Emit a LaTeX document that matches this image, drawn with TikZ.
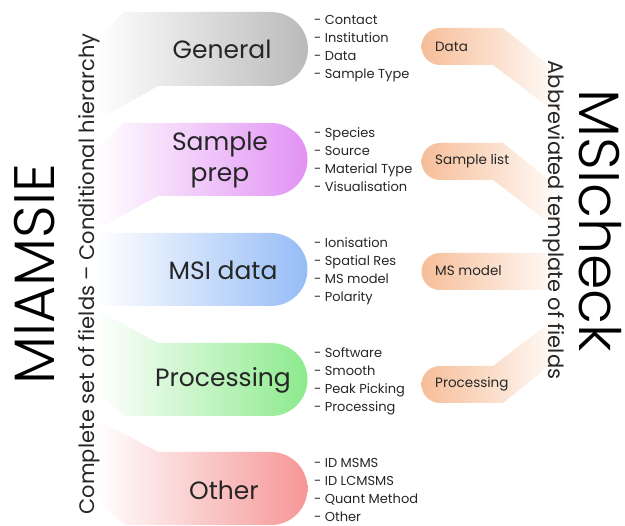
\documentclass[tikz,border=0pt]{standalone}
\usepackage{fontspec}
\setmainfont{Poppins}
\IfFontExistsTF{Poppins Light}{\newfontfamily\thinfont{Poppins Light}}{\newfontfamily\thinfont{Poppins}}

\definecolor{genGray}{RGB}{186,186,186}
\definecolor{prepPink}{RGB}{226,146,244}
\definecolor{msiBlue}{RGB}{150,188,246}
\definecolor{procGreen}{RGB}{140,234,140}
\definecolor{othRed}{RGB}{246,150,150}
\definecolor{chkPeach}{RGB}{246,190,152}
\definecolor{txtGray}{RGB}{38,38,38}

\begin{document}
\begin{tikzpicture}[x=1pt, y=-1pt,
    lbl/.style={inner sep=0pt, align=center, font=\fontsize{25}{31}\selectfont, text=txtGray},
    fields/.style={anchor=west, align=left, inner sep=0pt, font=\fontsize{13}{18}\selectfont, text=txtGray},
    chk/.style={anchor=west, inner sep=0pt, font=\fontsize{13.5}{16}\selectfont, text=txtGray},
    side/.style={inner sep=0pt, font=\fontsize{21}{24}\selectfont, text=txtGray},
    title/.style={inner sep=0pt, font=\thinfont\fontsize{57}{60}\selectfont}]

    \useasboundingbox (0,0) rectangle (625,526);

    \shade [left color=white, right color=genGray] (96,40) -- (124,12) -- (271,12) arc [start angle=-90, end angle=90, radius=37] -- (158,86) -- (96,121) -- cycle;
    \shade [left color=white, right color=prepPink] (96,150) -- (123,123) -- (271,123) arc [start angle=-90, end angle=90, radius=36.5] -- (158,196) -- (96,230) -- cycle;
    \shade [left color=white, right color=msiBlue] (96,233) -- (271,233) arc [start angle=-90, end angle=90, radius=36.5] -- (96,306) -- cycle;
    \shade [left color=white, right color=procGreen] (96,309) -- (158,343) -- (271,343) arc [start angle=-90, end angle=90, radius=36.5] -- (125,416) -- (96,392) -- cycle;
    \shade [left color=white, right color=othRed] (96,419) -- (158,452) -- (271,452) arc [start angle=-90, end angle=90, radius=36.5] -- (125,525) -- (96,500) -- cycle;

    \shade [left color=chkPeach, right color=white] (440,28) -- (503,28) -- (565,78) -- (565,120) -- (493,65) -- (440,65) arc [start angle=90, end angle=270, radius=18.5] -- cycle;
    \shade [left color=chkPeach, right color=white] (440,143) -- (503,143) -- (565,193) -- (565,235) -- (493,180) -- (440,180) arc [start angle=90, end angle=270, radius=18.5] -- cycle;
    \shade [left color=chkPeach, right color=white] (440,253) -- (565,253) -- (565,290) -- (440,290) arc [start angle=90, end angle=270, radius=18.5] -- cycle;
    \shade [left color=chkPeach, right color=white] (440,366) -- (493,366) -- (565,311) -- (565,353) -- (503,403) -- (440,403) arc [start angle=90, end angle=270, radius=18.5] -- cycle;

    \node [lbl] (gen) at (222,49) {General};
    \node [lbl] (prep) at (220,160) {Sample\\prep};
    \node [lbl] (msi) at (223,270) {MSI data};
    \node [lbl] (proc) at (223,380) {Processing};
    \node [lbl] (oth) at (224,490) {Other};

    \node [fields] (genlist) at (314,49) {- Contact\\- Institution\\- Data\\- Sample Type};
    \node [fields] (preplist) at (314,160) {- Species\\- Source\\- Material Type\\- Visualisation};
    \node [fields] (msilist) at (314,271) {- Ionisation\\- Spatial Res\\- MS model\\- Polarity};
    \node [fields] (proclist) at (314,381) {- Software\\- Smooth\\- Peak Picking\\- Processing};
    \node [fields] (othlist) at (314,490) {- ID MSMS\\- ID LCMSMS\\- Quant Method\\- Other};

    \node [chk] (chkdata) at (435,47) {Data};
    \node [chk] (chklist) at (435,161) {Sample list};
    \node [chk] (chkms) at (435,271) {MS model};
    \node [chk] (chkproc) at (435,384) {Processing};

    \node [title, rotate=90] (miamsie) at (35,274) {MIAMSIE};
    \node [side, rotate=90] (complete) at (89,274) {Complete set of fields – Conditional hierarchy};
    \node [title, rotate=-90] (msicheck) at (600,221) {MSIcheck};
    \node [side, rotate=-90] (abbrev) at (554,220) {Abbreviated template of fields};

\end{tikzpicture}
\end{document}
